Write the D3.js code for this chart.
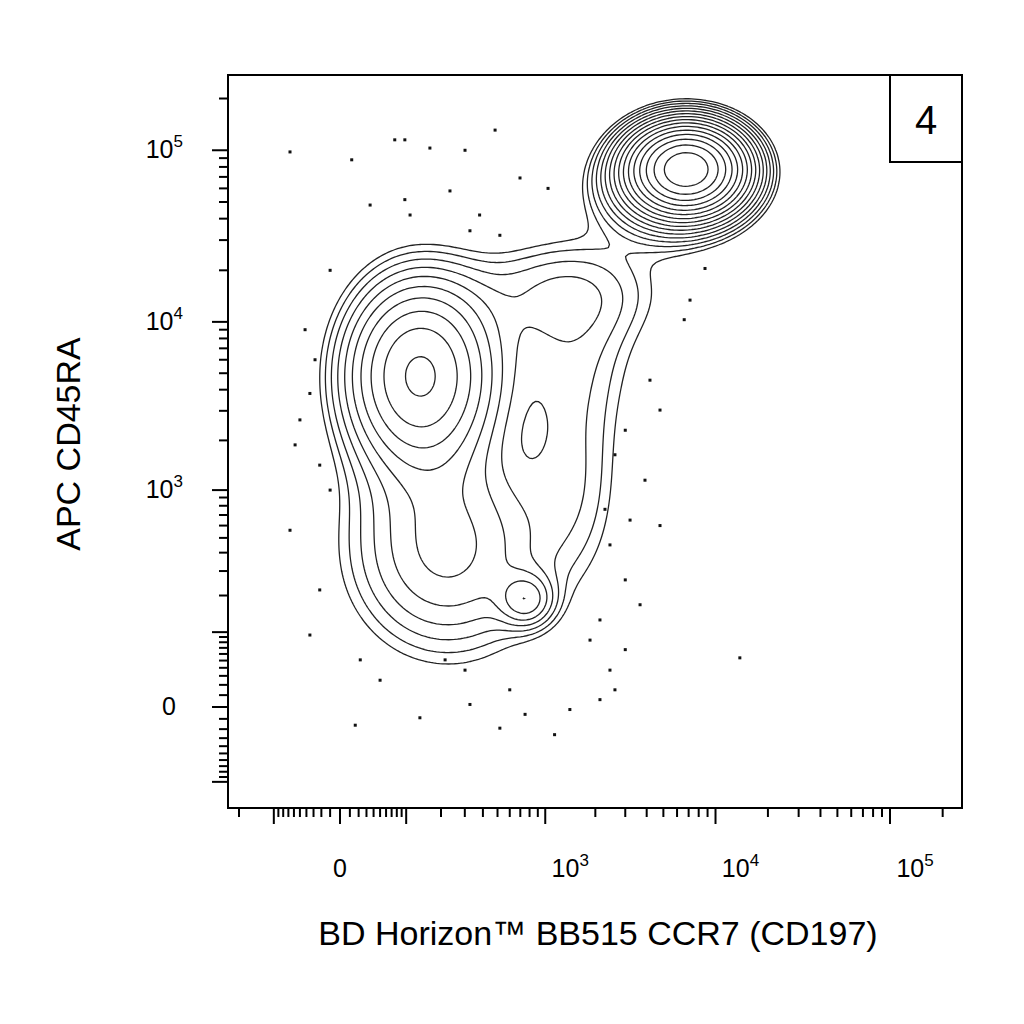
<!DOCTYPE html>
<html><head><meta charset="utf-8">
<script src="https://cdn.jsdelivr.net/npm/d3@7"></script>
<style>body{margin:0;background:#fff}</style></head>
<body><svg id="c" width="1024" height="1024"></svg>
<script>
// Populations (CCR7 value, CD45RA value, spread in decades x, y, relative weight)
const popX = [6700, 5500, 130, 220, 750, 1400, 1500, 1300];
const popY = [80000, 60000, 5000, 430, 190, 8000, 1300, 16000];
const popSX = [0.18, 0.25, 0.26, 0.37, 0.1, 0.3, 0.2, 0.4];
const popSY = [0.14, 0.18, 0.34, 0.4, 0.1, 0.35, 0.45, 0.2];
const popW = [3.0, 0.3, 0.55, 0.2, 0.16, 0.07, 0.07, 0.07];
// Outlier events
const dotX = [-67,12,76,97,163,301,482,697,1040,35,97,109,234,380,518,326,-10,-42,-28,-35,-50,-58,-22,-10,-67,-22,-35,22,50,16,134,215,301,518,750,1140,1410,2130,2610,3000,3000,3660,2440,3200,4780,3910,2610,3000,4780,4180,6600,7130,8700,13800,2440,1860,326,600,2280,2130];
const dotY = [97800,88000,115000,115000,103000,100000,131000,69000,60000,48000,51600,42000,58000,42000,32000,34000,20000,9000,6000,3800,2650,1880,1420,1000,560,220,94,51,25,-16,-9,51,37,-19,-6,-26,-2,6,15,67,260,170,450,650,600,1150,1640,2300,3030,4550,10300,13400,20500,54,37,84,2,15,760,128];
const xTickVals = [0, 1e3, 1e4, 1e5];
const yTickVals = [0, 1e3, 1e4, 1e5];
const xTitle = "BD Horizon™ BB515 CCR7 (CD197)";
const yTitle = "APC CD45RA";

const L=228,R=962,T=75,B=808;
const tx = v => Math.sign(v)*Math.log10(1+Math.abs(v)/72);
const ty = v => Math.sign(v)*Math.log10(1+Math.abs(v)/58);
const xl = d3.scaleLinear().domain([0,1]).range([340,515]);
const yl = d3.scaleLinear().domain([0,1]).range([707,535]);
const xs = v => xl(tx(v)), ys = v => yl(ty(v));
const svg = d3.select("#c");
const font="Liberation Sans, Arial, sans-serif";

const step=3, gw=Math.ceil((R-L)/step), gh=Math.ceil((B-T)/step);
const vals=new Float64Array(gw*gh);
for(let j=0;j<gh;j++)for(let i=0;i<gw;i++){
  const a=xl.invert(L+i*step), b=yl.invert(T+j*step);
  let s=0;
  for(let k=0;k<popX.length;k++){
    const dx=(a-tx(popX[k]))/popSX[k], dy=(b-ty(popY[k]))/popSY[k];
    s+=popW[k]*Math.exp(-0.5*(dx*dx+dy*dy));
  }
  vals[j*gw+i]=s;
}
const th=[]; for(let t=0.05;t<3.2;t*=1.3) th.push(t);
const cs=d3.contours().size([gw,gh]).thresholds(th)(vals);
const g=svg.append("g").attr("transform",`translate(${L},${T}) scale(${step})`);
g.selectAll("path").data(cs).join("path").attr("d",d3.geoPath())
 .attr("fill","none").attr("stroke","#222").attr("stroke-width",1.3/step);

svg.append("g").selectAll("rect").data(dotX).join("rect")
 .attr("x",d=>xs(d)-1.5).attr("y",(d,i)=>ys(dotY[i])-1.5).attr("width",3).attr("height",3).attr("fill","#111");

svg.append("rect").attr("x",L).attr("y",T).attr("width",R-L).attr("height",B-T).attr("fill","none").attr("stroke","#000").attr("stroke-width",2);
svg.append("rect").attr("x",890).attr("y",T).attr("width",R-890).attr("height",87).attr("fill","#fff").attr("stroke","#000").attr("stroke-width",2);
svg.append("text").attr("x",926).attr("y",134).attr("text-anchor","middle").attr("font-family",font).attr("font-size",40).text("4");

const minors=[];
[1,10,100,1000,10000,100000].forEach(d=>{for(let m=1;m<10;m++){minors.push(m*d);}});
const xm=minors.filter(v=>v>=10&&xs(v)<R).concat(minors.filter(v=>v>=10&&xs(-v)>L).map(v=>-v));
const ym=minors.filter(v=>v>=10&&ys(v)>T).concat(minors.filter(v=>v>=10&&ys(-v)<B).map(v=>-v));
const maj=v=>[0,100,1000,10000,100000,-100].includes(v);
svg.append("g").selectAll("line").data(xm.concat([0])).join("line")
 .attr("x1",d=>xs(d)).attr("x2",d=>xs(d)).attr("y1",B).attr("y2",d=>B+(maj(d)?16:9)).attr("stroke","#000").attr("stroke-width",2);
svg.append("g").selectAll("line").data(ym.concat([0])).join("line")
 .attr("y1",d=>ys(d)).attr("y2",d=>ys(d)).attr("x1",L).attr("x2",d=>L-(maj(d)?16:9)).attr("stroke","#000").attr("stroke-width",2);

function lab(sel,v){
  if(v===0){sel.text("0");return;}
  sel.append("tspan").text("10");
  sel.append("tspan").attr("dy",-11).attr("font-size",17).text(Math.round(Math.log10(v)));
}
xTickVals.forEach(v=>{
  const t=svg.append("text").attr("x",xs(v)+(v===0?0:25)).attr("y",877).attr("text-anchor","middle").attr("font-family",font).attr("font-size",25);
  lab(t,v);
});
yTickVals.forEach(v=>{
  const t=svg.append("text").attr("x",v===0?176:183).attr("y",ys(v)+8).attr("text-anchor","end").attr("font-family",font).attr("font-size",25);
  lab(t,v);
});
svg.append("text").attr("x",598).attr("y",945).attr("text-anchor","middle").attr("font-family",font).attr("font-size",34).text(xTitle);
svg.append("text").attr("transform","translate(80,444) rotate(-90)").attr("text-anchor","middle").attr("font-family",font).attr("font-size",34).text(yTitle);
</script></body></html>
